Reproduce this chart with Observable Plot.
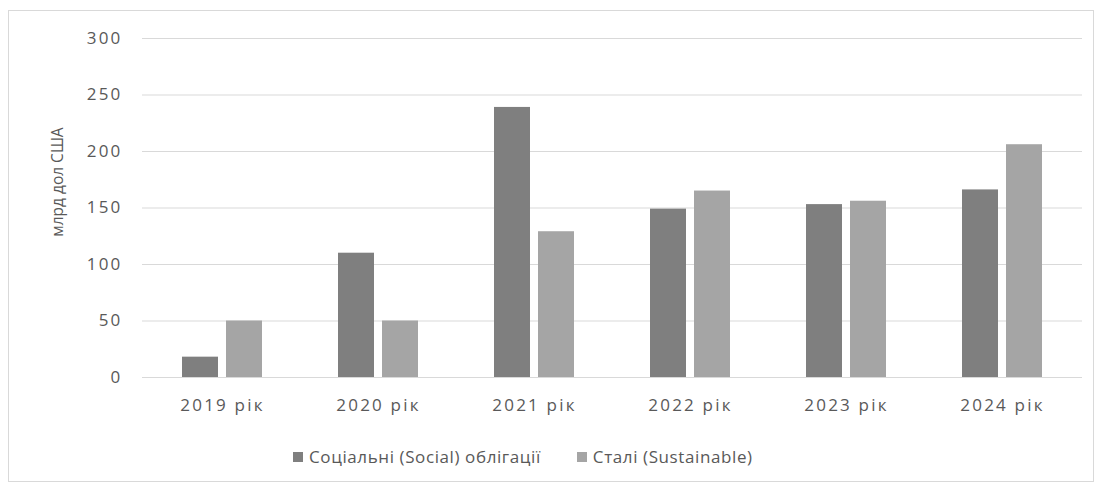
<!DOCTYPE html>
<html>
<head>
<meta charset="utf-8">
<script src="https://cdn.jsdelivr.net/npm/d3@7"></script>
<script src="https://cdn.jsdelivr.net/npm/@observablehq/plot@0.6"></script>
<style>
  html, body { margin: 0; padding: 0; background: #fff; }
  #frame {
    position: absolute; left: 8px; top: 10px;
    width: 1086px; height: 472px;
    border: 1px solid #d9d9d9; box-sizing: border-box;
    font-family: "Open Sans", sans-serif;
  }
  #legend {
    position: absolute; left: 284px; top: 434px;
    display: flex; gap: 36px;
    font-size: 17px; letter-spacing: 0.6px; color: #595959;
  }
  #legend span.item { display: flex; align-items: center; white-space: nowrap; }
  #legend span.sw { display: inline-block; width: 10px; height: 10px; margin-right: 6px; }
  #chart svg text.spaced { letter-spacing: 2.2px; }
</style>
</head>
<body>
<div id="frame">
  <div id="chart"></div>
  <div id="legend"></div>
</div>
<script>
// Issuance by year, bn USD
const years = ["2019 рік", "2020 рік", "2021 рік", "2022 рік", "2023 рік", "2024 рік"];
const social = [18, 110, 239, 149, 153, 166];
const sustainable = [50, 50, 129, 165, 156, 206];
const seriesNames = ["Соціальні (Social) облігації", "Сталі (Sustainable)"];
const seriesColors = ["#7f7f7f", "#a5a5a5"];
const yTicks = [0, 50, 100, 150, 200, 250, 300];
const yTitle = "млрд дол США";

const rows = years.map((year, i) => ({year, social: social[i], sustainable: sustainable[i]}));

const chart = Plot.plot({
  width: 1084,
  height: 420,
  marginLeft: 133,
  marginRight: 11,
  marginTop: 27,
  marginBottom: 54,
  style: {fontFamily: "Open Sans, sans-serif", fontSize: "17px", color: "#595959", background: "#fff"},
  x: {domain: years, paddingInner: 0.49, paddingOuter: 0.245, label: null},
  y: {domain: [0, 300], ticks: yTicks},
  marks: [
    Plot.ruleY(yTicks, {stroke: "#d9d9d9", strokeWidth: 1.2}),
    Plot.axisY({ticks: yTicks, tickSize: 0, tickPadding: 20, fontSize: 17, label: null}),
    Plot.axisX({tickSize: 0, tickPadding: 21, fontSize: 17, label: null}),
    Plot.text([yTitle], {frameAnchor: "left", textAnchor: "middle", dx: -84, dy: -26, rotate: -90,
      fontSize: 15.5, fill: "#595959", text: d => d}),
    Plot.barY(rows, {x: "year", y: "social", fill: seriesColors[0], insetRight: 44}),
    Plot.barY(rows, {x: "year", y: "sustainable", fill: seriesColors[1], insetLeft: 44})
  ]
});
// widen the axis tick labels a little
chart.querySelectorAll("g[aria-label='y-axis tick label'] text, g[aria-label='x-axis tick label'] text")
  .forEach(t => t.classList.add("spaced"));
document.getElementById("chart").appendChild(chart);

const legend = document.getElementById("legend");
seriesNames.forEach((name, i) => {
  const item = document.createElement("span");
  item.className = "item";
  const sw = document.createElement("span");
  sw.className = "sw";
  sw.style.background = seriesColors[i];
  item.appendChild(sw);
  item.appendChild(document.createTextNode(name));
  legend.appendChild(item);
});
</script>
</body>
</html>
